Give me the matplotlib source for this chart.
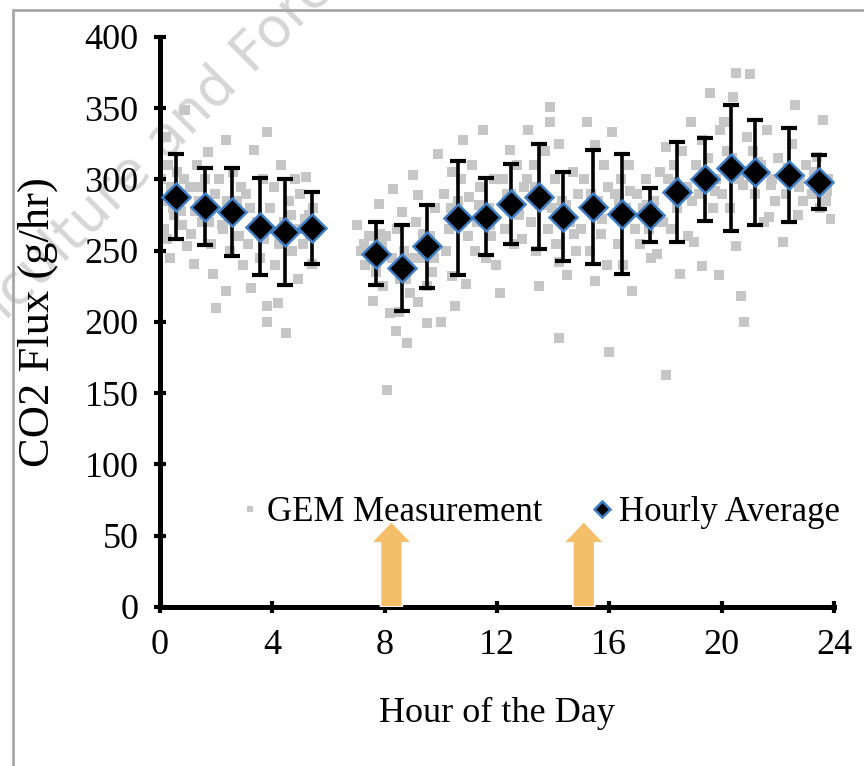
import matplotlib.pyplot as plt
from matplotlib.patches import Rectangle

# hourly averages
avg_hour = [0.57, 1.6, 2.57, 3.57, 4.46, 5.42, 7.7, 8.63, 9.49, 10.6, 11.6, 12.5,
            13.48, 14.34, 15.4, 16.44, 17.44, 18.4, 19.4, 20.33, 21.2, 22.4, 23.47]
avg_flux = [288, 281, 277, 267, 263, 266, 248, 238, 253, 273, 274, 283,
            288, 274, 281, 276, 275, 291, 300, 308, 305, 303, 298]
avg_err = [30, 27, 31, 34, 37, 25, 22, 30, 29, 40, 27, 28,
           37, 31, 40, 42, 19, 35, 29, 44, 37, 33, 19]

# individual GEM measurements
gem_hour = [0.05, 0.1, 0.15, 0.2, 0.25, 0.3, 0.4, 0.5, 0.6, 0.7, 0.8, 0.9, 0.95, 0.85, 0.35,
            1.05, 1.1, 1.2, 1.3, 1.4, 1.5, 1.6, 1.7, 1.8, 1.9, 1.95, 1.25,
            2.0, 2.1, 2.2, 2.35, 2.35, 2.4, 2.5, 2.6, 2.7, 2.8, 2.9, 2.95,
            3.05, 3.15, 3.25, 3.35, 3.45, 3.55, 3.65, 3.8, 3.8, 3.8, 3.9, 3.7,
            4.05, 4.1, 4.2, 4.3, 4.4, 4.5, 4.6, 4.7, 4.8, 4.9, 4.95,
            5.0, 5.1, 5.2, 5.3, 5.4, 5.45, 5.35,
            7.0, 7.15, 7.3, 7.45, 7.6, 7.7, 7.8, 7.9, 7.55, 7.95,
            8.05, 8.1, 8.2, 8.3, 8.4, 8.5, 8.55, 8.6, 8.7, 8.8, 8.9, 8.95, 8.45,
            9.0, 9.1, 9.2, 9.2, 9.3, 9.5, 9.5, 9.6, 9.7, 9.8, 9.9, 10.0,
            10.1, 10.2, 10.3, 10.4, 10.4, 10.5, 10.6, 10.7, 10.8, 10.9, 10.95,
            11.0, 11.1, 11.2, 11.3, 11.4, 11.5, 11.6, 11.7, 11.8, 11.9, 11.95,
            12.1, 12.2, 12.3, 12.45, 12.5, 12.6, 12.7, 12.8, 12.9, 12.95,
            13.05, 13.1, 13.2, 13.3, 13.4, 13.5, 13.6, 13.7, 13.8, 13.9, 13.9, 13.95,
            14.05, 14.1, 14.2, 14.2, 14.2, 14.3, 14.5, 14.6, 14.7, 14.8, 14.9,
            15.0, 15.1, 15.2, 15.3, 15.5, 15.5, 15.6, 15.7, 15.8, 15.9, 15.95,
            16.0, 16.1, 16.2, 16.3, 16.4, 16.5, 16.6, 16.8, 16.9, 16.7,
            17.0, 17.1, 17.2, 17.3, 17.4, 17.5, 17.6, 17.7, 17.8, 17.9, 18.0, 18.0,
            18.1, 18.2, 18.3, 18.4, 18.5, 18.6, 18.7, 18.8, 18.9, 18.95,
            19.0, 19.1, 19.2, 19.3, 19.3, 19.5, 19.6, 19.7, 19.8, 19.9, 19.95,
            20.0, 20.1, 20.2, 20.4, 20.5, 20.5, 20.6, 20.7, 20.8, 20.9, 20.3,
            21.0, 21.1, 21.2, 21.4, 21.5, 21.6, 21.7, 21.8, 21.9,
            22.0, 22.2, 22.3, 22.5, 22.6, 22.7, 22.8, 22.9,
            23.0, 23.2, 23.4, 23.6, 23.7, 23.8, 23.9, 23.5,
            # extra points filling the dense band
            0.45, 1.35, 2.25, 3.2, 4.25, 5.15, 7.25, 8.25, 9.35, 10.35, 11.35, 12.35,
            13.35, 14.45, 15.35, 16.35, 17.35, 18.35, 19.4, 20.35, 21.3, 22.35, 23.3,
            0.75, 1.75, 2.75, 3.6, 4.65, 7.85, 8.75, 9.75, 10.75, 11.75, 12.75,
            13.75, 14.75, 15.75, 16.75, 17.75, 18.75, 19.75, 20.75, 21.75, 22.75, 23.75]
gem_flux = [300, 285, 265, 330, 258, 310, 295, 275, 305, 290, 268, 349, 253, 300, 245,
            295, 262, 241, 310, 285, 270, 300, 319, 255, 234, 290, 278,
            210, 300, 268, 328, 222, 285, 250, 305, 275, 260, 295, 240,
            290, 255, 224, 321, 270, 245, 300, 333, 211, 200, 280, 258,
            295, 240, 213, 310, 270, 192, 285, 250, 300, 230, 265,
            290, 255, 302, 275, 241, 280, 260,
            268, 250, 240, 260, 215, 235, 283, 255, 245, 225,
            260, 152, 206, 293, 194, 207, 230, 277, 250, 185, 220, 245, 265,
            303, 270, 289, 214, 245, 225, 199, 260, 235, 280, 318, 200,
            290, 250, 265, 305, 232, 211, 285, 300, 328, 227, 260,
            288, 310, 250, 270, 295, 335, 245, 280, 260, 300, 240,
            220, 300, 265, 321, 290, 255, 310, 275, 258, 295,
            300, 335, 270, 310, 250, 225, 290, 320, 265, 351, 340, 280,
            300, 255, 325, 242, 189, 285, 233, 270, 305, 250, 290,
            265, 300, 340, 250, 324, 229, 285, 262, 310, 240, 295,
            179, 333, 290, 255, 300, 240, 280, 222, 265, 310,
            290, 255, 280, 300, 265, 245, 285, 248, 305, 270, 163, 323,
            300, 265, 310, 280, 234, 320, 295, 260, 340, 285,
            256, 310, 290, 328, 239, 315, 361, 280, 300, 233, 335,
            290, 340, 320, 358, 375, 253, 300, 218, 200, 330, 280,
            374, 320, 290, 310, 270, 335, 274, 300, 285,
            315, 256, 290, 325, 352, 275, 300, 285,
            310, 290, 316, 342, 285, 300, 272, 280,
            280, 295, 265, 280, 255, 272, 255, 245, 262, 280, 282, 290,
            295, 282, 290, 285, 282, 298, 305, 315, 312, 308, 305,
            278, 270, 285, 260, 275, 262, 230, 245, 270, 268, 278,
            282, 262, 272, 292, 270, 295, 292, 296, 296, 295, 292]

# times of the two events marked with arrows
arrow_hours = [8.24, 15.09]

plt.rcParams['font.family'] = 'Liberation Serif'

fig = plt.figure(figsize=(8.64, 7.66), dpi=100)
ax = fig.add_axes([0.1852, 0.2076, 0.7801, 0.7441])
ax.set_zorder(2)
ax.patch.set_alpha(0)

ax.plot(gem_hour, gem_flux, 's', color='#c6c6c6', markersize=7.5, markeredgewidth=0,
        label='GEM Measurement', zorder=1)
ax.errorbar(avg_hour, avg_flux, yerr=avg_err, fmt='none', ecolor='black',
            elinewidth=2.6, capsize=5.5, capthick=3, zorder=2)
ax.plot(avg_hour, avg_flux, 'D', color='black', markersize=14,
        markeredgecolor='#3f7fc6', markeredgewidth=1.8, label='Hourly Average', zorder=3)

for h in arrow_hours:
    ax.arrow(h, 0, 0, 60, width=0.78, head_width=1.45, head_length=15,
             length_includes_head=True, fc='#f5be69', ec='white', lw=1.2, zorder=4)

ax.set_xlim(0, 24)
ax.set_ylim(0, 400)
ax.set_xticks(range(0, 25, 4))
ax.set_yticks(range(0, 401, 50))
ax.spines['top'].set_visible(False)
ax.spines['right'].set_visible(False)
ax.spines['left'].set_linewidth(3.6)
ax.spines['bottom'].set_linewidth(3.6)
ax.tick_params(direction='inout', length=9, width=3, labelsize=26)
ax.tick_params(axis='y', pad=11)
ax.tick_params(axis='x', pad=11)

ax.set_xlabel('Hour of the Day', fontsize=26)
ax.set_ylabel('CO2 Flux (g/hr)', fontsize=32)
ax.xaxis.set_label_coords(0.5, -0.158)
ax.yaxis.set_label_coords(-0.152, 0.5)

ax.legend(loc='center', bbox_to_anchor=(0.558, 0.165), ncol=2, frameon=False,
          fontsize=25, handletextpad=0.0, columnspacing=1.2, markerscale=0.6,
          handlelength=1.0, borderpad=0)

# watermark, sits behind the axes
fig.text(0.19, 0.815, 'Agriculture and Forestry', fontsize=40, color='#d6d6d6',
         family='DejaVu Sans', rotation=45, ha='center', va='center',
         rotation_mode='anchor', zorder=0)

# light grey border round the figure
fig.add_artist(Rectangle((13 / 864, -0.1), 1.2, 1.1 - 10 / 766, transform=fig.transFigure,
                         fill=False, ec='#a8a8a8', lw=2))

plt.savefig('out.png', dpi=100)
